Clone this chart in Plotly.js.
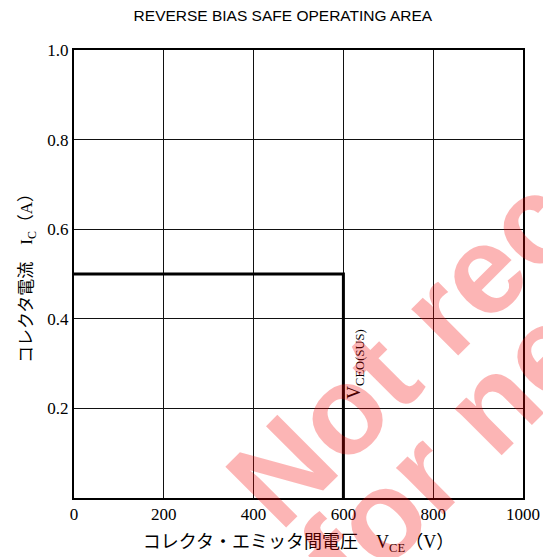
<!DOCTYPE html>
<html>
<head>
<meta charset="utf-8">
<script src="https://cdn.plot.ly/plotly-3.0.1.min.js"></script>
<style>html,body{margin:0;padding:0;background:#fff;}#chart{width:543px;height:557px;}</style>
</head>
<body>
<div id="chart"></div>
<script>
// Data
var boundaryVce = [0, 600, 600];
var boundaryIc = [0.5, 0.5, 0];
var xTickVals = [0, 200, 400, 600, 800, 1000];
var yTickVals = [0.2, 0.4, 0.6, 0.8, 1.0];
var chartTitle = 'REVERSE BIAS SAFE OPERATING AREA';
var xTitle = 'コレクタ・エミッタ間電圧　V<sub>CE</sub>（V）';
var yTitle = 'コレクタ電流　I<sub>C</sub>（A）';
var sustainLabel = 'V<sub>CEO(SUS)</sub>';
var sustainX = 600;
var sustainY = 0.30;
var watermark1 = 'Not recommended';
var watermark2 = 'for new design';

var serif = 'Liberation Serif, Noto Sans CJK JP, serif';
var jp = 'Liberation Serif, Noto Sans CJK JP, serif';

var traces = [{
  x: boundaryVce, y: boundaryIc, type: 'scatter', mode: 'lines',
  line: {color: '#000', width: 3}, hoverinfo: 'skip', cliponaxis: false
}];

var layout = {
  width: 543, height: 557,
  margin: {l: 74, r: 20, t: 50, b: 59},
  paper_bgcolor: '#fff', plot_bgcolor: '#fff',
  showlegend: false,
  title: {
    text: chartTitle, x: 0.521, xanchor: 'center', xref: 'container',
    y: 0.972, yanchor: 'middle', yref: 'container',
    font: {family: 'Liberation Sans, Arial, sans-serif', size: 15.5, color: '#000'}
  },
  xaxis: {
    range: [0, 1000], tickvals: xTickVals, tickformat: 'd',
    showgrid: true, gridcolor: '#111', gridwidth: 1.2,
    showline: true, linecolor: '#000', linewidth: 2, mirror: true,
    zeroline: false, ticks: '', fixedrange: true,
    tickfont: {family: serif, size: 17, color: '#000'},
    title: {text: xTitle, standoff: 12, font: {family: jp, size: 18, color: '#000'}}
  },
  yaxis: {
    range: [0, 1.0], tickvals: yTickVals, tickformat: '.1f',
    showgrid: true, gridcolor: '#111', gridwidth: 1.2,
    showline: true, linecolor: '#000', linewidth: 2, mirror: true,
    zeroline: false, ticks: '', fixedrange: true,
    tickfont: {family: serif, size: 17, color: '#000'},
    title: {text: yTitle, standoff: 10, font: {family: jp, size: 17, color: '#000'}}
  },
  annotations: [
    {
      text: sustainLabel, x: sustainX, y: sustainY, xref: 'x', yref: 'y',
      showarrow: false, textangle: -90, xanchor: 'center', yanchor: 'middle', xshift: 12,
      font: {family: 'Liberation Serif, serif', size: 18, color: '#000'}
    },
    {
      text: watermark1, x: 1.256, y: 0.855, xref: 'paper', yref: 'paper',
      showarrow: false, textangle: -45, xanchor: 'center', yanchor: 'middle',
      font: {family: 'Liberation Sans, Arial, sans-serif', size: 125, weight: 'bold', color: 'rgba(245,0,0,0.29)'}
    },
    {
      text: watermark2, x: 1.247, y: 0.529, xref: 'paper', yref: 'paper',
      showarrow: false, textangle: -45, xanchor: 'center', yanchor: 'middle',
      font: {family: 'Liberation Sans, Arial, sans-serif', size: 125, weight: 'bold', color: 'rgba(245,0,0,0.29)'}
    }
  ]
};

Plotly.newPlot('chart', traces, layout, {displayModeBar: false, staticPlot: true});
</script>
</body>
</html>
